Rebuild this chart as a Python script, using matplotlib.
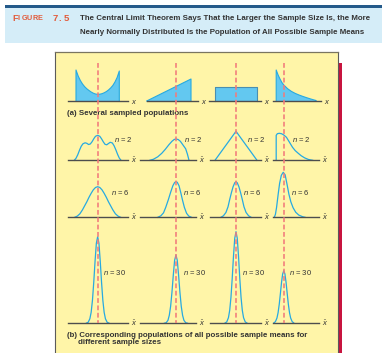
import matplotlib
matplotlib.use("Agg")
import matplotlib.pyplot as plt
from matplotlib.patches import Rectangle
from matplotlib.transforms import blended_transform_factory

# ---------------------------------------------------------------- data ----
# population means (x units of each column; populations live on 0..10)
population_means = [5.0, 6.67, 5.0, 2.0]
sample_sizes = [2, 6, 30]

# (a) sampled populations: x values and relative heights
pop_u_x = [0, 0.5, 1, 1.5, 2, 2.5, 3, 3.5, 4, 4.5, 5, 5.5, 6, 6.5, 7, 7.5, 8, 8.5, 9, 9.5, 10]
pop_u_h = [31, 25, 20.5, 17, 14.3, 12.2, 10.5, 9, 7.8, 7, 6.6, 6.8, 7.3, 8.2, 9.4, 11, 13, 15.5, 19, 23.5, 30]
pop_ramp_x = [0, 10]
pop_ramp_h = [0, 22]
pop_unif_x = [0, 10]
pop_unif_h = [14.3, 14.3]
pop_exp_x = [0, 0.5, 1, 1.5, 2, 3, 4, 5, 6, 7, 8, 9, 10, 10.5]
pop_exp_h = [31, 26, 22, 18.5, 16, 12.3, 9.6, 7.6, 6, 4.6, 3.3, 2.1, 1, 0.5]

# (b) populations of sample means, n = 2
n2_u_x = [-0.4, 0, 0.4, 0.8, 1.2, 1.6, 2.1, 2.5, 2.9, 3.3, 3.7, 4.1, 4.5, 5, 5.5, 5.9,
          6.3, 6.7, 7.1, 7.5, 7.9, 8.4, 8.8, 9.2, 9.6, 10, 10.4]
n2_u_h = [0, 2, 5.5, 10, 14, 16.5, 17.5, 17, 15.8, 16.3, 18.5, 21.5, 24, 25, 24, 21.5,
          18.5, 16, 15.5, 16.8, 18, 17.3, 14.5, 10.5, 6, 2.2, 0]
n2_ramp_x = [0.7, 1.5, 2.5, 3.4, 4.2, 5.0, 5.7, 6.2, 6.6, 7.1, 7.6, 8.0, 8.4, 8.8, 9.2, 9.55]
n2_ramp_h = [0, 1, 3.5, 7, 11, 15.5, 19, 20.8, 21.3, 20.8, 19, 16.5, 14, 11.5, 6, 0]
n2_unif_x = [0, 5, 10]
n2_unif_h = [0, 29, 0]
n2_exp_x = [0, 0, 0.3, 0.8, 1.4, 2.0, 2.7, 3.5, 4.3, 5.0, 5.8, 6.6, 7.5, 8.5, 9.6]
n2_exp_h = [0, 25, 26.6, 27, 26.6, 25.3, 23, 18, 13, 9.7, 7, 4.5, 2.4, 0.8, 0]

# n = 6
n6_u_x = [-0.3, 0.3, 0.9, 1.5, 2.0, 2.5, 3.0, 3.5, 4.0, 4.5, 5, 5.5, 6, 6.5, 7, 7.5, 8, 8.5, 9.1, 9.7, 10.3]
n6_u_h = [0, 1.2, 3.5, 7.5, 11.5, 15.5, 20, 24, 27.5, 29.8, 30.6, 29.8, 27.5, 24, 20, 15.5, 11.5, 7.5, 3.5, 1.2, 0]
n6_ramp_x = [2.5, 3.2, 3.8, 4.3, 4.9, 5.4, 5.9, 6.3, 6.6, 6.9, 7.3, 7.7, 8.05, 8.5, 9.0, 9.5, 10.1]
n6_ramp_h = [0, 1.5, 4.5, 10, 17.8, 25, 31.5, 34.8, 35.6, 35, 31.5, 24.5, 17.8, 10, 4, 1.2, 0]
n6_unif_x = [1.4, 2.0, 2.6, 3.1, 3.5, 3.9, 4.3, 4.7, 5.0, 5.3, 5.7, 6.1, 6.5, 6.9, 7.4, 8.0, 8.6]
n6_unif_h = [0, 1.5, 4.8, 10.5, 17.8, 24.5, 30.5, 34.5, 35.6, 34.5, 30.5, 24.5, 17.8, 10.5, 4.8, 1.5, 0]
n6_exp_x = [-0.5, -0.2, 0.1, 0.5, 0.9, 1.35, 1.85, 2.35, 2.85, 3.35, 3.85, 4.45, 5.15, 5.95, 6.95, 7.6]
n6_exp_h = [0, 3, 10, 22.5, 34, 42, 45, 42.5, 33, 23, 15.5, 9.5, 5, 2.2, 0.6, 0]

# n = 30
n30_u_x = [2.4, 2.8, 3.2, 3.5, 3.8, 4.1, 4.4, 4.7, 5.0, 5.3, 5.6, 5.9, 6.2, 6.5, 6.8, 7.2, 7.6]
n30_u_h = [0.2, 1, 4.5, 11, 23, 41, 62, 80, 86.6, 80, 62, 41, 23, 11, 4.5, 1, 0.2]
n30_ramp_x = [4.0, 4.4, 4.8, 5.1, 5.4, 5.7, 6.0, 6.3, 6.6, 6.9, 7.2, 7.5, 7.8, 8.1, 8.4, 8.8, 9.2]
n30_ramp_h = [0.1, 0.6, 3, 8, 17, 31, 48, 63, 68.3, 63, 48, 31, 17, 8, 3, 0.6, 0.1]
n30_unif_x = [2.4, 2.8, 3.2, 3.5, 3.8, 4.1, 4.4, 4.7, 5.0, 5.3, 5.6, 5.9, 6.2, 6.5, 6.8, 7.2, 7.6]
n30_unif_h = [0.3, 1.4, 5.6, 13, 26, 45, 67, 85, 91.6, 85, 67, 45, 26, 13, 5.6, 1.4, 0.3]
n30_exp_x = [-0.6, -0.2, 0.2, 0.5, 0.8, 1.1, 1.4, 1.7, 2.0, 2.3, 2.6, 2.9, 3.2, 3.5, 3.8, 4.2, 4.6]
n30_exp_h = [0.4, 1.7, 5.3, 10.7, 19, 29.6, 40.8, 49.3, 52.6, 49.3, 40.8, 29.6, 19, 10.7, 5.3, 1.7, 0.4]

figure_number = "7.5"
title_lines = ["The Central Limit Theorem Says That the Larger the Sample Size Is, the More",
               "Nearly Normally Distributed Is the Population of All Possible Sample Means"]
label_a = "(a) Several sampled populations"
label_b = ["(b) Corresponding populations of all possible sample means for",
           "different sample sizes"]

# --------------------------------------------------------------- style ----
W, H = 382, 353
SANS = ["Liberation Sans", "DejaVu Sans"]
plt.rcParams["mathtext.fontset"] = "custom"
plt.rcParams["mathtext.it"] = "Liberation Sans:italic"
plt.rcParams["mathtext.rm"] = "Liberation Sans"

C_HEAD_LINE = "#245a8a"
C_HEAD_BAND = "#d5edf8"
C_FIG_LABEL = "#e25b3b"
C_TEXT = "#333333"
C_PANEL = "#fff5a8"
C_BORDER = "#5b5b5b"
C_SHADOW = "#c8143f"
C_CURVE = "#27aae1"
C_FILL = "#63c8f0"
C_DASH = "#f27b7b"
C_BASE = "#4d4d4d"

fig = plt.figure(figsize=(W / 100, H / 100), dpi=100)
fig.patch.set_facecolor("white")

bg = fig.add_axes([0, 0, 1, 1])
bg.set_xlim(0, W)
bg.set_ylim(H, 0)
bg.axis("off")

# header
bg.add_patch(Rectangle((5, 8), W - 5, 34.5, facecolor=C_HEAD_BAND, edgecolor="none"))
bg.add_patch(Rectangle((5, 5.3), W - 5, 2.7, facecolor=C_HEAD_LINE, edgecolor="none"))

fig_chars = [("F", 12.3, 6.6), ("I", 18.0, 5.2), ("G", 21.4, 5.2), ("U", 27.0, 5.2),
             ("R", 32.8, 5.2), ("E", 38.0, 5.2)]
for ch, xx, fs in fig_chars:
    bg.text(xx, 18.8, ch, fontsize=fs, color=C_FIG_LABEL, fontweight="bold",
            family=SANS, ha="left", va="center")
for i, ch in enumerate(figure_number):
    bg.text(52.5 + i * 5.4, 18.8, ch, fontsize=6.8, color=C_FIG_LABEL,
            fontweight="bold", family=SANS, ha="left", va="center")
for i, line in enumerate(title_lines):
    bg.text(80, 18.8 + i * 13.6, line, fontsize=5.65, color=C_TEXT,
            fontweight="bold", family=SANS, ha="left", va="center")

# panel
PX0, PX1, PY0 = 55, 337.5, 52
bg.add_patch(Rectangle((338, 62.7), 4.3, H - 62.7, facecolor=C_SHADOW, edgecolor="none"))
bg.add_patch(Rectangle((PX0, PY0), PX1 - PX0, H - PY0 + 2, facecolor=C_PANEL,
                       edgecolor="none"))
bg.plot([PX0, PX0], [H + 2, PY0], color=C_BORDER, lw=0.8)
bg.plot([PX1, PX1], [H + 2, PY0], color=C_BORDER, lw=0.8)
bg.plot([PX0, PX1], [PY0, PY0], color="#7a7560", lw=0.9)

bg.text(66.7, 113.5, label_a, fontsize=5.7, color=C_TEXT, fontweight="bold",
        family=SANS, ha="left", va="center")
bg.text(66.7, 335.5, label_b[0], fontsize=5.7, color=C_TEXT, fontweight="bold",
        family=SANS, ha="left", va="center")
bg.text(78.3, 342.8, label_b[1], fontsize=5.7, color=C_TEXT, fontweight="bold",
        family=SANS, ha="left", va="center")

# ---------------------------------------------------------------- cells ---
col_origin = [76.0, 146.7, 215.0, 276.2]     # pixel x of value 0
col_scale = [4.33, 4.43, 4.2, 3.8]           # pixels per value unit
row_base = [101.0, 160.3, 217.3, 323.3]      # pixel y of each baseline
row_height = [40, 40, 55, 100]
seg_a = [(68.3, 128.3), (146.7, 197.7), (209.3, 261.0), (273.3, 320.7)]
seg_b = [(68.3, 128.3), (140.0, 196.0), (210.0, 261.0), (272.7, 319.3)]

pop_curves = [(pop_u_x, pop_u_h), (pop_ramp_x, pop_ramp_h),
              (pop_unif_x, pop_unif_h), (pop_exp_x, pop_exp_h)]
mean_curves = {
    2: [(n2_u_x, n2_u_h), (n2_ramp_x, n2_ramp_h), (n2_unif_x, n2_unif_h), (n2_exp_x, n2_exp_h)],
    6: [(n6_u_x, n6_u_h), (n6_ramp_x, n6_ramp_h), (n6_unif_x, n6_unif_h), (n6_exp_x, n6_exp_h)],
    30: [(n30_u_x, n30_u_h), (n30_ramp_x, n30_ramp_h), (n30_unif_x, n30_unif_h), (n30_exp_x, n30_exp_h)],
}
n_label_pos = {2: ([114.5, 184.0, 247.0, 292.5], 139.6),
               6: ([110.9, 183.3, 243.0, 290.7], 192.3),
               30: ([103.3, 182.7, 241.7, 289.3], 272.7)}


def make_cell(row, col, seg):
    x0, x1 = seg
    yb, hp = row_base[row], row_height[row]
    ax = fig.add_axes([x0 / W, (H - yb) / H, (x1 - x0) / W, hp / H])
    ax.set_xlim((x0 - col_origin[col]) / col_scale[col],
                (x1 - col_origin[col]) / col_scale[col])
    ax.set_ylim(0, hp)
    ax.axis("off")
    ax.patch.set_alpha(0)
    return ax


ref_axes = []
for col in range(4):
    ax = make_cell(0, col, seg_a[col])
    xs, hs = pop_curves[col]
    ax.fill_between(xs, 0, hs, facecolor=C_FILL, edgecolor="none", zorder=2)
    edge_col = "#4a8fb0" if col == 2 else C_CURVE
    ax.plot([xs[0]] + list(xs) + [xs[-1]], [0] + list(hs) + [0], color=edge_col,
            lw=0.8, clip_on=False, zorder=3)
    ax.axhline(0, color=C_BASE, lw=1.0, clip_on=False, zorder=4)
    ax.annotate("$x$", xy=(1, 0), xycoords="axes fraction", xytext=(3, 0),
                textcoords="offset pixels", fontsize=5.5, color=C_TEXT,
                ha="left", va="center")

for r, n in enumerate(sample_sizes, start=1):
    xs_lab, y_lab = n_label_pos[n]
    for col in range(4):
        ax = make_cell(r, col, seg_b[col])
        if r == 1:
            ref_axes.append(ax)
        xs, hs = mean_curves[n][col]
        ax.plot(xs, hs, color=C_CURVE, lw=0.9, clip_on=False, zorder=3,
                solid_joinstyle="round")
        ax.axhline(0, color=C_BASE, lw=1.0, clip_on=False, zorder=4)
        ax.annotate(r"$\bar{x}$", xy=(1, 0), xycoords="axes fraction", xytext=(3, 0),
                    textcoords="offset pixels", fontsize=5.5, color=C_TEXT,
                    ha="left", va="center")
        bg.text(xs_lab[col], y_lab, f"$n$ = {n}", fontsize=5.5, color=C_TEXT,
                family=SANS, ha="left", va="center")

# dashed mean lines drawn over all rows
top = fig.add_axes([0, 0, 1, 1])
top.set_xlim(0, W)
top.set_ylim(H, 0)
top.axis("off")
top.patch.set_alpha(0)
for col, m in enumerate(population_means):
    tr = blended_transform_factory(ref_axes[col].transData, top.transData)
    top.plot([m, m], [63, row_base[-1]], transform=tr, color=C_DASH, lw=1.15,
             linestyle=(0, (3, 1.6)), zorder=5)

fig.savefig("out.png", dpi=100, facecolor="white")
